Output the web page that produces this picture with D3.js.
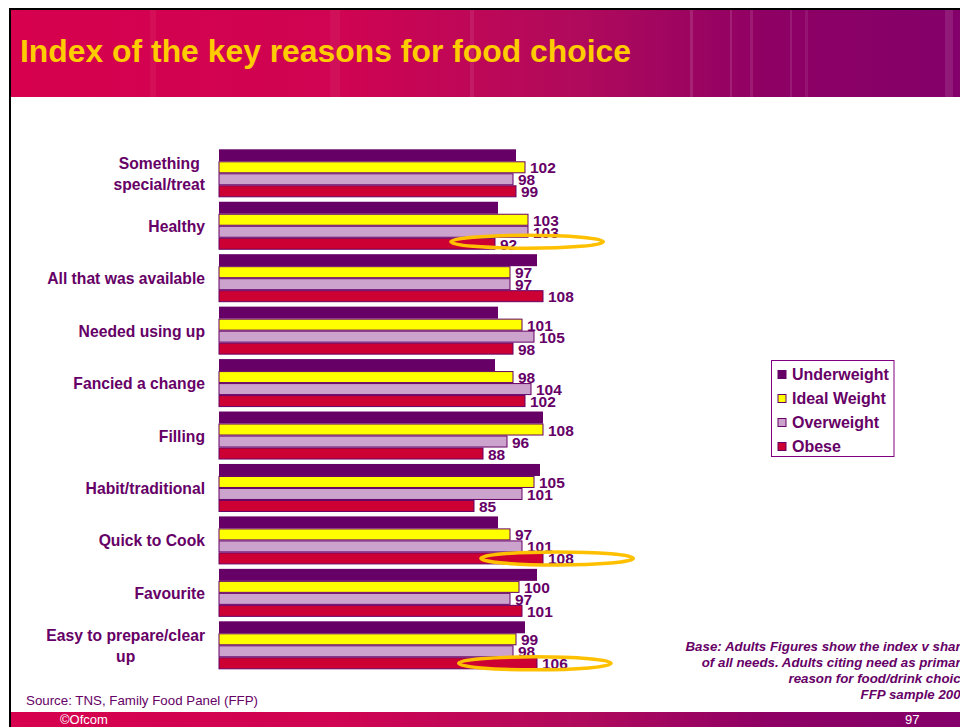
<!DOCTYPE html>
<html><head><meta charset="utf-8">
<script src="https://cdn.jsdelivr.net/npm/d3@7"></script>
<style>html,body{margin:0;padding:0;background:#fff;overflow:hidden;} svg{display:block;}</style>
</head><body>
<svg id="chart" width="960" height="727"></svg>
<script>
// ---------- DATA ----------
const categories = ["Something special/treat","Healthy","All that was available","Needed using up","Fancied a change","Filling","Habit/traditional","Quick to Cook","Favourite","Easy to prepare/clear up"];
const categoryLines = [["Something","special/treat"],["Healthy"],["All that was available"],["Needed using up"],["Fancied a change"],["Filling"],["Habit/traditional"],["Quick to Cook"],["Favourite"],["Easy to prepare/clear","up"]];
const series = ["Underweight","Ideal Weight","Overweight","Obese"];
const underweight = [99,93,106,93,92,108,107,93,106,102];
const idealWeight = [102,103,97,101,98,108,105,97,100,99];
const overweight  = [98,103,97,105,104,96,101,101,97,98];
const obese       = [99,92,108,98,102,88,85,108,101,106];
const labelledSeries = ["Ideal Weight","Overweight","Obese"];
const highlights = [
  {category:"Healthy", center:102.7, dy:-2},
  {category:"Quick to Cook", center:112.7, dy:0},
  {category:"Easy to prepare/clear up", center:105.3, dy:0}
];
const titleText = "Index of the key reasons for food choice";
const sourceText = "Source: TNS, Family Food Panel (FFP)";
const baseLines = ["Base: Adults Figures show the index v share","of all needs. Adults citing need as primary","reason for food/drink choice","FFP sample 2003"];
const footerLeft = "©Ofcom";
const footerRight = "97";

// ---------- STYLE ----------
const colors = {"Underweight":"#660066","Ideal Weight":"#FFFF00","Overweight":"#CCA3CC","Obese":"#CC0033"};
const textColor = "#660066";
const font = "'Liberation Sans', Arial, Helvetica, sans-serif";
const valuesBySeries = {"Underweight":underweight,"Ideal Weight":idealWeight,"Overweight":overweight,"Obese":obese};

const svg = d3.select("#chart");
const defs = svg.append("defs");
const g1 = defs.append("linearGradient").attr("id","hdr").attr("x1","0").attr("x2","1").attr("y1","0").attr("y2","0");
[["0%","#D6004E"],["35%","#CF0452"],["60%","#B00A5C"],["80%","#8E0064"],["100%","#84006A"]].forEach(s=>g1.append("stop").attr("offset",s[0]).attr("stop-color",s[1]));

// frame
svg.append("rect").attr("x",9).attr("y",8).attr("width",960).attr("height",2).attr("fill","#000");
svg.append("rect").attr("x",9).attr("y",8).attr("width",2).attr("height",719).attr("fill","#000");

// header
svg.append("rect").attr("x",11).attr("y",10).attr("width",949).attr("height",87).attr("fill","url(#hdr)");
[[150,6,0.05],[330,10,0.05],[470,4,0.08],[690,3,0.12],[730,2,0.12],[750,3,0.10],[790,2,0.10],[805,3,0.08],[945,8,0.10]].forEach(s=>{
  svg.append("rect").attr("x",s[0]).attr("y",10).attr("width",s[1]).attr("height",87).attr("fill","#fff").attr("opacity",s[2]);
});
svg.append("text").attr("x",20).attr("y",62).attr("fill","#FFCC00")
  .attr("font-family",font).attr("font-weight","bold").attr("font-size",31)
  .attr("textLength",611).attr("lengthAdjust","spacingAndGlyphs").text(titleText);

// footer bar
svg.append("rect").attr("x",11).attr("y",712).attr("width",949).attr("height",15).attr("fill","url(#hdr)");
svg.append("text").attr("x",60).attr("y",724).attr("fill","#fff").attr("font-family",font).attr("font-size",13).text(footerLeft);
svg.append("text").attr("x",905).attr("y",724).attr("fill","#fff").attr("font-family",font).attr("font-size",13).text(footerRight);

// ---------- SCALES ----------
const x = d3.scaleLinear().domain([0,110]).range([219,549]);
const y = d3.scaleBand().domain(categories).range([149.3,669.3]).paddingInner(0.0847).paddingOuter(0);
const ys = d3.scaleBand().domain(series).range([0,y.bandwidth()]).padding(0);

// bars
const groups = svg.append("g").selectAll("g").data(categories).join("g")
  .attr("transform",d=>`translate(0,${y(d)})`);
groups.each(function(cat,i){
  const g = d3.select(this);
  series.forEach(s=>{
    const v = valuesBySeries[s][i];
    g.append("rect")
      .attr("x",x(0)).attr("y",ys(s)+ (s==="Underweight"?0:0.5))
      .attr("width",x(v)-x(0)).attr("height",ys.bandwidth()-(s==="Underweight"?0:1))
      .attr("fill",colors[s])
      .attr("stroke",s==="Underweight"?"none":"#660066").attr("stroke-width",1);
  });
  labelledSeries.forEach(s=>{
    const v = valuesBySeries[s][i];
    g.append("text").attr("x",x(v)+5).attr("y",ys(s)+ys.bandwidth()/2+6)
      .attr("fill",textColor).attr("font-family",font).attr("font-weight","bold").attr("font-size",15.5)
      .text(v);
  });
});

// category labels
categories.forEach((cat,i)=>{
  const lines = categoryLines[i];
  const cy = y(cat)+y.bandwidth()/2;
  const gl = svg.append("g");
  if(lines.length===1){
    gl.append("text").attr("x",205).attr("y",cy+6).attr("text-anchor","end")
      .attr("fill",textColor).attr("font-family",font).attr("font-weight","bold").attr("font-size",15.7).text(lines[0]);
  } else {
    const ts = lines.map((l,k)=>gl.append("text").attr("y",cy-4+k*21)
      .attr("fill",textColor).attr("font-family",font).attr("font-weight","bold").attr("font-size",15.7).text(l));
    const w = d3.max(ts,t=>t.node().getComputedTextLength());
    ts.forEach(t=>t.attr("text-anchor","middle").attr("x",205-w/2));
  }
});

// highlight ellipses
highlights.forEach(h=>{
  const cy = y(h.category)+ys("Obese")+ys.bandwidth()/2+h.dy;
  svg.append("ellipse").attr("cx",x(h.center)).attr("cy",cy)
    .attr("rx",x(h.center)-x(h.center-25.4)).attr("ry",6.5)
    .attr("fill","none").attr("stroke","#FFC000").attr("stroke-width",3.5);
});

// legend
const lg = svg.append("g");
lg.append("rect").attr("x",771.5).attr("y",360.5).attr("width",122.5).attr("height",96)
  .attr("fill","#fff").attr("stroke","#800080").attr("stroke-width",1);
series.forEach((s,k)=>{
  const cy = 374.5+k*24;
  lg.append("rect").attr("x",778).attr("y",cy-4).attr("width",8).attr("height",8)
    .attr("fill",colors[s]).attr("stroke","#660066").attr("stroke-width",1);
  lg.append("text").attr("x",792).attr("y",cy+5.5).attr("fill",textColor)
    .attr("font-family",font).attr("font-weight","bold").attr("font-size",16).text(s);
});

// source & base notes
svg.append("text").attr("x",26).attr("y",705).attr("fill",textColor).attr("font-family",font).attr("font-size",13)
  .attr("textLength",232).attr("lengthAdjust","spacingAndGlyphs").text(sourceText);
baseLines.forEach((l,k)=>{
  svg.append("text").attr("x",968).attr("y",651+k*16).attr("text-anchor","end").attr("fill",textColor)
    .attr("font-family",font).attr("font-weight","bold").attr("font-style","italic").attr("font-size",13.3).text(l);
});
</script>
</body></html>
